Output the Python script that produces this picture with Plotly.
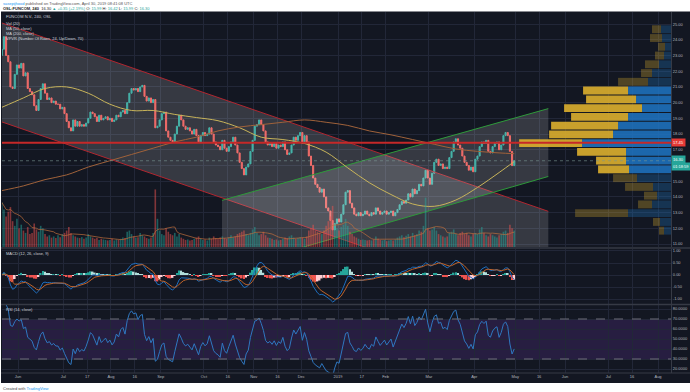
import numpy as np
import pandas as pd
import plotly.graph_objects as go

# ---------------- data ----------------
holidays = ["2018-12-24", "2018-12-25", "2018-12-26", "2018-12-31", "2019-01-01",
            "2019-04-18", "2019-04-19", "2019-04-22"]
first_open = 23.0
closes = [
    23.4, 24.2, 23.0, 22.6, 21.0, 20.9, 21.8, 22.4, 22.2, 22.5,
    21.7, 21.9, 20.9, 20.7, 20.5, 19.8, 19.5, 20.2, 20.9, 21.2,
    20.6, 20.2, 20.3, 20.0, 20.1, 19.9, 19.9, 19.6, 19.7, 19.3,
    18.8, 18.4, 18.2, 18.9, 18.5, 18.8, 18.5, 18.6, 18.5, 18.7,
    19.0, 19.4, 19.3, 19.1, 18.8, 19.2, 18.9, 19.0, 19.1, 18.9,
    19.0, 18.8, 18.9, 19.2, 19.1, 19.4, 19.5, 19.3, 20.0, 20.6,
    20.9, 20.8, 20.9, 20.7, 21.0, 21.1, 20.4, 20.1, 20.3, 20.0,
    20.2, 18.4, 18.5, 18.9, 19.3, 19.4, 18.2, 17.8, 17.6, 17.5,
    18.0, 18.5, 19.2, 18.9, 18.5, 18.3, 18.4, 18.2, 18.0, 18.3,
    17.9, 17.5, 17.9, 18.1, 17.9, 18.0, 18.4, 18.0, 17.5, 17.3,
    17.2, 17.0, 17.6, 17.1, 16.9, 17.2, 17.5, 17.8, 17.3, 16.8,
    16.2, 15.8, 15.4, 15.9, 16.1, 16.9, 17.6, 18.5, 18.6, 18.9,
    18.6, 18.2, 17.5, 17.3, 17.4, 17.2, 17.4, 17.1, 17.3, 17.2,
    17.5, 17.0, 16.7, 16.8, 17.3, 17.8, 17.6, 17.9, 18.1, 17.4,
    17.9, 17.5, 16.6, 16.0, 15.2, 14.8, 14.6, 14.3, 14.5, 14.0,
    13.3, 13.1, 12.5, 11.9, 12.3, 12.6, 12.4, 12.9, 13.5, 14.3,
    14.4, 13.6, 13.3, 12.9, 12.8, 13.0, 12.8, 12.9, 13.1, 12.9,
    12.8, 13.0, 12.9, 13.3, 13.1, 12.9, 13.0, 13.1, 12.9, 13.0,
    13.1, 12.8, 13.0, 13.2, 13.5, 13.7, 13.6, 13.8, 14.2, 14.0,
    14.5, 14.2, 14.4, 14.8, 14.7, 15.2, 15.7, 15.2, 14.8, 15.5,
    16.2, 16.4, 16.0, 16.1, 15.8, 15.9, 15.8, 16.5, 16.9, 17.5,
    17.7, 17.3, 17.1, 16.6, 16.2, 16.0, 15.7, 15.9, 15.6, 16.4,
    16.6, 17.2, 17.5, 17.4, 17.6, 16.9, 16.8, 17.2, 17.4, 17.5,
    17.0, 17.3, 17.9, 18.1, 17.9, 16.9, 15.99, 16.30,
]
volumes = [
    190, 160, 130, 150, 170, 110, 90, 120, 80, 95,
    70, 60, 85, 55, 60, 100, 75, 65, 90, 80,
    55, 45, 50, 40, 45, 38, 50, 42, 55, 60,
    70, 85, 60, 50, 45, 40, 38, 42, 35, 40,
    55, 45, 40, 35, 38, 30, 35, 32, 30, 28,
    30, 35, 28, 32, 30, 35, 40, 38, 65, 70,
    55, 45, 40, 42, 60, 50, 45, 38, 35, 40,
    60, 245, 120, 70, 55, 50, 80, 65, 55, 50,
    60, 45, 55, 40, 35, 30, 32, 28, 30, 35,
    40, 45, 35, 30, 32, 28, 40, 35, 45, 38,
    35, 40, 45, 38, 35, 40, 50, 42, 45, 55,
    60, 65, 70, 55, 50, 60, 75, 85, 60, 50,
    55, 65, 50, 40, 38, 35, 30, 32, 28, 30,
    35, 40, 38, 45, 50, 40, 35, 38, 42, 40,
    35, 45, 70, 80, 95, 70, 65, 60, 55, 70,
    90, 110, 130, 175, 100, 80, 70, 85, 95, 120,
    90, 65, 55, 45, 40, 35, 30, 32, 30, 28,
    30, 28, 32, 45, 35, 30, 28, 30, 25, 28,
    30, 28, 32, 40, 45, 50, 42, 48, 55, 45,
    60, 50, 55, 70, 65, 90, 210, 80, 70, 75,
    85, 70, 55, 50, 45, 40, 45, 60, 65, 75,
    55, 50, 60, 65, 55, 60, 50, 45, 55, 60,
    55, 75, 85, 60, 50, 45, 55, 50, 45, 40,
    50, 55, 65, 70, 60, 95, 80, 70,
]
# moving averages read at every 10th bar (plus the last bar)
ma_idx = list(range(0, 231, 10)) + [237]
sma50 = [19.7, 20.3, 20.9, 21.0, 20.6, 19.9, 19.5, 19.5, 19.25, 19.05, 18.85, 18.4,
         17.8, 17.65, 17.4, 16.85, 15.85, 14.9, 14.15, 13.55, 13.4, 13.8, 14.6, 15.55, 16.25]
sma200 = [14.4, 14.7, 15.1, 15.4, 15.9, 16.3, 16.7, 17.1, 17.5, 17.8, 18.2, 18.45,
          18.6, 18.75, 18.9, 18.75, 18.55, 18.2, 17.95, 17.65, 17.35, 17.05, 16.9, 16.8, 16.75]

# volume profile (24 rows, listed from top row to bottom row)
vp_up = [10, 9, 6, 7, 12, 19, 23, 43, 35, 29, 43, 53, 58, 89, 45, 45, 42, 34, 18, 14, 19, 43, 11, 7]
vp_down = [9, 12, 7, 9, 14, 11, 30, 45, 50, 78, 57, 67, 64, 63, 49, 30, 31, 24, 28, 13, 14, 53, 7, 5]
vp_low, vp_high = 11.57, 24.95
vp_value_area = (7, 16)
poc_price = 17.45
last_price = 16.30

# regression channels (dates, prices)
red_ch_x = ["2018-05-22 14:24", "2019-05-22 06:00"]
red_ch_upper = [25.07, 13.08]
red_ch_lower = [18.77, 6.78]
green_ch_x = ["2018-10-11 08:00", "2019-05-22 06:00"]
green_ch_upper = [13.78, 19.62]
green_ch_lower = [9.31, 15.30]

tick_dates = ["2018-06-01", "2018-07-02", "2018-07-17", "2018-08-01", "2018-08-16", "2018-09-03",
              "2018-10-01", "2018-10-16", "2018-11-01", "2018-11-16", "2018-12-03", "2019-01-02",
              "2019-01-17", "2019-02-01", "2019-03-01", "2019-04-01", "2019-05-01", "2019-05-16",
              "2019-06-03", "2019-07-01", "2019-07-16", "2019-08-01"]
tick_text = ["Jun", "Jul", "17", "Aug", "16", "Sep", "Oct", "16", "Nov", "16", "Dec", "2019",
             "17", "Feb", "Mar", "Apr", "May", "16", "Jun", "Jul", "16", "Aug"]
price_ticks = list(range(11, 26))
macd_ticks = [-1.0, -0.5, 0.0, 0.5, 1.0]
rsi_ticks = [20, 30, 40, 50, 60, 70, 80]

# ---------------- derived ----------------
dates = pd.bdate_range("2018-05-22", "2019-04-30")
dates = dates[~dates.isin(pd.to_datetime(holidays))]
x = dates + pd.Timedelta(hours=12)
c = np.array(closes, dtype=float)
o = np.r_[first_open, c[:-1]]
hi = np.maximum(o, c)
lo = np.minimum(o, c)
up_bar = c >= o

cs = pd.Series(c)
macd = cs.ewm(span=6, adjust=False).mean() - cs.ewm(span=13, adjust=False).mean()
signal = macd.ewm(span=5, adjust=False).mean()
hist = macd - signal
hist_col = []
prev = 0.0
for hv in hist:
    if hv >= 0:
        hist_col.append('#26A69A' if hv >= prev else '#B2DFDB')
    else:
        hist_col.append('#EF5350' if hv <= prev else '#FFCDD2')
    prev = hv
d = cs.diff()
g = d.clip(lower=0).ewm(alpha=1/9, adjust=False).mean()
ls = (-d.clip(upper=0)).ewm(alpha=1/9, adjust=False).mean()
rsi = 100 - 100 / (1 + g / ls)
vol_ma = pd.Series(volumes).rolling(10, min_periods=1).mean()

BG = '#131722'
GRID = '#222738'
TXT = '#B2B5BE'
FONT = 'Liberation Sans, Arial, sans-serif'
rb = [dict(bounds=["sat", "mon"]), dict(values=holidays)]

def fx(px):
    return (px - 2) / 669.0

def fy(py):
    return (373 - py) / 361.0

fig = go.Figure()

# regression channels
for cx, cu, cl, lc in [(red_ch_x, red_ch_upper, red_ch_lower, '#B0262F'),
                       (green_ch_x, green_ch_upper, green_ch_lower, '#2E9A3A')]:
    fig.add_trace(go.Scatter(x=[cx[0], cx[1], cx[1], cx[0], cx[0]],
                             y=[cu[0], cu[1], cl[1], cl[0], cu[0]],
                             fill='toself', fillcolor='rgba(255,255,255,0.15)',
                             line=dict(width=0), mode='lines', hoverinfo='skip'))
    fig.add_trace(go.Scatter(x=cx, y=cu, mode='lines', line=dict(color=lc, width=1)))
    fig.add_trace(go.Scatter(x=cx, y=cl, mode='lines', line=dict(color=lc, width=1)))

# volume
fig.add_trace(go.Bar(x=x, y=volumes, yaxis='y4',
                     marker=dict(color=np.where(up_bar, 'rgba(38,166,154,0.5)', 'rgba(239,83,80,0.5)'),
                                 line=dict(width=0))))
fig.add_trace(go.Scatter(x=x, y=vol_ma, yaxis='y4', mode='lines',
                         line=dict(color='rgba(190,110,60,0.7)', width=1)))

# candles
fig.add_trace(go.Candlestick(x=x, open=o, high=hi, low=lo, close=c,
                             increasing=dict(line=dict(color='#26A69A', width=1), fillcolor='#26A69A'),
                             decreasing=dict(line=dict(color='#EF5350', width=1), fillcolor='#EF5350'),
                             whiskerwidth=0))

# moving averages
fig.add_trace(go.Scatter(x=x[ma_idx], y=sma50, mode='lines', line=dict(color='#C8B45A', width=1, shape='spline')))
fig.add_trace(go.Scatter(x=x[ma_idx], y=sma200, mode='lines', line=dict(color='#A0623A', width=1, shape='spline')))

# volume profile
n = len(vp_up)
row_h = (vp_high - vp_low) / n
vp_levels = np.linspace(vp_high - row_h / 2, vp_low + row_h / 2, n)
in_va = [vp_value_area[0] <= k <= vp_value_area[1] for k in range(n)]
col_up = ['rgba(31,118,196,0.85)' if v else 'rgba(31,118,196,0.3)' for v in in_va]
col_dn = ['rgba(221,175,45,0.9)' if v else 'rgba(221,175,45,0.3)' for v in in_va]
vp_tot = np.array(vp_up) + np.array(vp_down)
vp_range = vp_tot.max() / 0.227
fig.add_trace(go.Bar(y=vp_levels, x=vp_up, base=0, orientation='h', xaxis='x4', yaxis='y',
                     width=row_h * 0.9, marker=dict(color=col_up, line=dict(width=0))))
fig.add_trace(go.Bar(y=vp_levels, x=vp_down, base=vp_up, orientation='h', xaxis='x4', yaxis='y',
                     width=row_h * 0.9, marker=dict(color=col_dn, line=dict(width=0))))

# MACD
fig.add_trace(go.Bar(x=x, y=hist, xaxis='x2', yaxis='y2', marker=dict(color=hist_col, line=dict(width=0))))
fig.add_trace(go.Scatter(x=x, y=macd, xaxis='x2', yaxis='y2', mode='lines', line=dict(color='#1E6FC0', width=1)))
fig.add_trace(go.Scatter(x=x, y=signal, xaxis='x2', yaxis='y2', mode='lines', line=dict(color='#C0642A', width=1)))

# RSI
fig.add_trace(go.Scatter(x=x, y=rsi, xaxis='x3', yaxis='y3', mode='lines', line=dict(color='#2F77C0', width=1)))

xr = ["2018-05-22 14:24", "2019-08-09 00:00"]
xcommon = dict(type='date', range=xr, rangebreaks=rb, tickvals=tick_dates, ticktext=tick_text,
               showgrid=True, gridcolor=GRID, gridwidth=1, zeroline=False, ticks='',
               showline=False, tickfont=dict(size=4, color=TXT, family=FONT))
tf = dict(size=4, color=TXT, family=FONT)
# the 16.00 tick label sits under the last-price / countdown labels, as in the reference
price_ticktext = ["" if v == 16 else f"{v:.2f}" for v in price_ticks]
fig.update_layout(
    width=690, height=392, margin=dict(l=2, r=19, t=12, b=19),
    paper_bgcolor='white', plot_bgcolor=BG, showlegend=False,
    barmode='overlay', bargap=0.25, font=dict(family=FONT),
    xaxis=dict(**xcommon, domain=[0, 1], anchor='y', showticklabels=False, rangeslider=dict(visible=False)),
    xaxis2=dict(**xcommon, domain=[0, 1], anchor='y2', matches='x', showticklabels=False),
    xaxis3=dict(**xcommon, domain=[0, 1], anchor='y3', matches='x', showticklabels=True),
    xaxis4=dict(overlaying='x', anchor='y', range=[vp_range, 0], visible=False, showgrid=False),
    yaxis=dict(domain=[fy(247), 1], range=[10.81, 25.77], side='right', tickvals=price_ticks,
               ticktext=price_ticktext, showgrid=True, gridcolor=GRID, zeroline=False,
               ticks='', tickfont=tf, showline=True, linecolor='#363A45'),
    yaxis4=dict(overlaying='y', range=[0, 1000], visible=False, showgrid=False),
    yaxis2=dict(domain=[fy(304), fy(249)], range=[-1.208, 1.083], side='right', tickvals=macd_ticks,
                ticktext=[f"{v:.2f}" for v in macd_ticks], showgrid=True, gridcolor=GRID, zeroline=False,
                ticks='', tickfont=tf, showline=True, linecolor='#363A45'),
    yaxis3=dict(domain=[0, fy(305)], range=[16, 84], side='right', tickvals=rsi_ticks,
                ticktext=[f"{v:.4f}" for v in rsi_ticks], showgrid=True, gridcolor=GRID, zeroline=False,
                ticks='', tickfont=tf, showline=True, linecolor='#363A45'),
)

shapes = [
    dict(type='rect', xref='paper', yref='paper', x0=fx(1), x1=fx(690), y0=fy(383), y1=fy(11.5),
         fillcolor=BG, line=dict(width=0), layer='below'),
    dict(type='rect', xref='x3', yref='y3', x0=xr[0], x1=xr[1], y0=30, y1=70,
         fillcolor='rgba(120,60,190,0.2)', line=dict(width=0), layer='below'),
    dict(type='line', xref='paper', yref='y3', x0=0, x1=1, y0=70, y1=70, line=dict(color='#6E6F7A', width=1, dash='dash')),
    dict(type='line', xref='paper', yref='y3', x0=0, x1=1, y0=30, y1=30, line=dict(color='#6E6F7A', width=1, dash='dash')),
    dict(type='line', xref='paper', yref='y', x0=0, x1=1, y0=last_price, y1=last_price,
         line=dict(color='rgba(120,150,145,0.6)', width=1, dash='dot')),
    dict(type='line', xref='paper', yref='y', x0=0, x1=1, y0=poc_price, y1=poc_price,
         line=dict(color='#C62828', width=2), layer='above'),
    dict(type='line', xref='paper', yref='paper', x0=fx(1), x1=fx(690), y0=fy(248), y1=fy(248), line=dict(color='#363A45', width=1.5)),
    dict(type='line', xref='paper', yref='paper', x0=fx(1), x1=fx(690), y0=fy(304.5), y1=fy(304.5), line=dict(color='#363A45', width=1.5)),
    dict(type='line', xref='paper', yref='paper', x0=fx(1), x1=fx(690), y0=0, y1=0, line=dict(color='#363A45', width=1)),
]
fig.update_layout(shapes=shapes)

def ann(text, px, py, size=4, color=TXT, **kw):
    return dict(text=text, x=fx(px), y=fy(py), xref='paper', yref='paper', xanchor='left', yanchor='middle',
                showarrow=False, font=dict(size=size, color=color, family=FONT), **kw)

G = '#26A69A'
anns = [
    ann("<span style='color:#2196F3'>sasepijhood</span> published on TradingView.com, April 30, 2019 08:41:08 UTC",
        1, 3, color='#555555'),
    ann(f"<b>OSL:FUNCOM, 240</b>  16.30 <span style='color:{G}'>▲ +0.35 (+2.19%)</span> O: <span style='color:{G}'>15.99</span>"
        f" H: <span style='color:{G}'>16.42</span> L: <span style='color:{G}'>15.99</span> C: <span style='color:{G}'>16.30</span>",
        1, 8, color='#222222'),
    ann("FUNCOM N.V., 240, OSL", 4, 16, color='#D1D4DC'),
    ann("Vol (20)", 4, 23, color='#D1D4DC'),
    ann("MA (50, close)", 4, 28.5, color='#D1D4DC'),
    ann("MA (200, close)", 4, 33.5, color='#D1D4DC'),
    ann("VPVR (Number Of Rows, 24, Up/Down, 70)", 4, 39, color='#D1D4DC'),
    ann("MACD (12, 26, close, 9)", 4, 253, color='#D1D4DC'),
    ann("RSI (14, close)", 4, 309, color='#D1D4DC'),
    ann("Created with <span style='color:#2196F3'>TradingView</span>", 1, 388, color='#444444'),
    dict(text="17.45", x=1.0, y=poc_price, xref='paper', yref='y', xanchor='left', yanchor='middle',
         showarrow=False, bgcolor='#E53935', borderpad=1, font=dict(size=4, color='white', family=FONT)),
    dict(text="16.30", x=1.0, y=last_price, yshift=1, xref='paper', yref='y', xanchor='left', yanchor='middle',
         showarrow=False, bgcolor='#26A69A', borderpad=1, font=dict(size=4, color='white', family=FONT)),
    dict(text="01:18:59", x=1.0, y=last_price, yshift=-6, xref='paper', yref='y', xanchor='left', yanchor='middle',
         showarrow=False, bgcolor='#26A69A', borderpad=1, font=dict(size=4, color='white', family=FONT)),
]
fig.update_layout(annotations=anns)

fig.write_html("out.html", config={'displayModeBar': False},
               post_script="document.body.style.margin='0';document.body.style.padding='0';document.body.style.overflow='hidden';")
